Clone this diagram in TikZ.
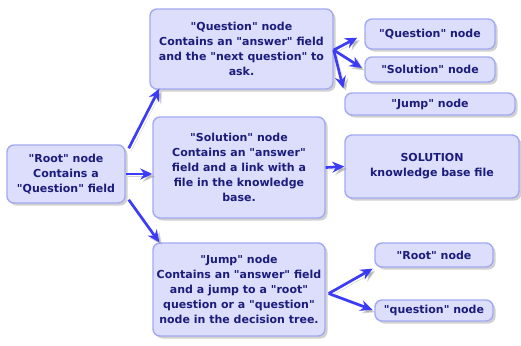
\documentclass[tikz,border=0pt]{standalone}
\usepackage{fontspec}
\setmainfont{DejaVu Sans}[Ligatures=TeXOff]
\usepackage{tikz}
\usetikzlibrary{arrows.meta,shadows}

\definecolor{boxfill}{HTML}{DCDEFC}
\definecolor{boxline}{HTML}{A3AAF2}
\definecolor{boxtext}{HTML}{1C1C7C}
\definecolor{arrblue}{HTML}{3C3CF6}

\tikzset{
    tree/.style={rectangle,rounded corners=7pt,draw=boxline,line width=1.4pt,
        fill=boxfill,text=boxtext,font=\fontsize{11}{15}\selectfont\bfseries,
        align=center,inner sep=0pt,
        drop shadow={shadow xshift=2.5pt,shadow yshift=-2.5pt,fill=black!40,opacity=0.45}},
    arr/.style={draw=arrblue,line width=2.7pt,
        -{Stealth[length=12pt,width=11pt]},
        preaction={draw=black!45,opacity=0.4,transform canvas={shift={(2.5pt,-2.5pt)}}}}
}

\begin{document}
\begin{tikzpicture}[x=1pt,y=-1pt]
    \useasboundingbox[fill=white] (0,0) rectangle (521,345);

    % main column
    \node[tree,minimum width=118pt,minimum height=58pt] (root) at (66,174)
        {"Root" node\\Contains a\\"Question" field};
    \node[tree,minimum width=183pt,minimum height=80pt] (qmain) at (241.5,49)
        {"Question" node\\Contains an "answer" field\\and the "next question" to\\ask.};
    \node[tree,minimum width=172pt,minimum height=101pt] (smain) at (239,167.5)
        {"Solution" node\\Contains an "answer"\\field and a link with a\\file in the knowledge\\base.};
    \node[tree,minimum width=172pt,minimum height=93pt] (jmain) at (239,289.5)
        {"Jump" node\\Contains an "answer" field\\and a jump to a "root"\\question or a "question"\\node in the decision tree.};

    % right column
    \node[tree,minimum width=130pt,minimum height=30pt] (qq) at (430,34) {"Question" node};
    \node[tree,minimum width=130pt,minimum height=25pt] (qs) at (430,69.5) {"Solution" node};
    \node[tree,minimum width=170pt,minimum height=22pt] (qj) at (430,104) {"Jump" node};
    \node[tree,minimum width=174pt,minimum height=63pt] (sfile) at (432,166.5)
        {SOLUTION\\knowledge base file};
    \node[tree,minimum width=118pt,minimum height=24pt] (jr) at (434,255) {"Root" node};
    \node[tree,minimum width=118pt,minimum height=21pt] (jq) at (434,310.5) {"question" node};

    % links
    \draw[arr] ([xshift=3pt,yshift=-4pt]root.north east) -- ([xshift=10pt,yshift=1pt]qmain.south west);
    \draw[arr] (root.east) -- (root.east -| smain.west);
    \draw[arr] ([xshift=3pt,yshift=4pt]root.south east) -- ([xshift=7pt]jmain.north west);

    \foreach \t/\s in {qq/8pt,qs/3pt}{
        \draw[arr,shorten >=\s] ([yshift=-1pt]qmain.east) -- (\t.west);
    }
    \draw[arr,shorten >=4pt] ([yshift=-1pt]qmain.east) -- (qj.north west);

    \draw[arr] (smain.east) -- (sfile.west);

    \draw[arr,shorten >=2pt] ([xshift=3pt,yshift=-4pt]jmain.east) -- (jr.south west);
    \draw[arr,shorten >=2pt] ([xshift=3pt,yshift=-4pt]jmain.east) -- (jq.west);
\end{tikzpicture}
\end{document}
